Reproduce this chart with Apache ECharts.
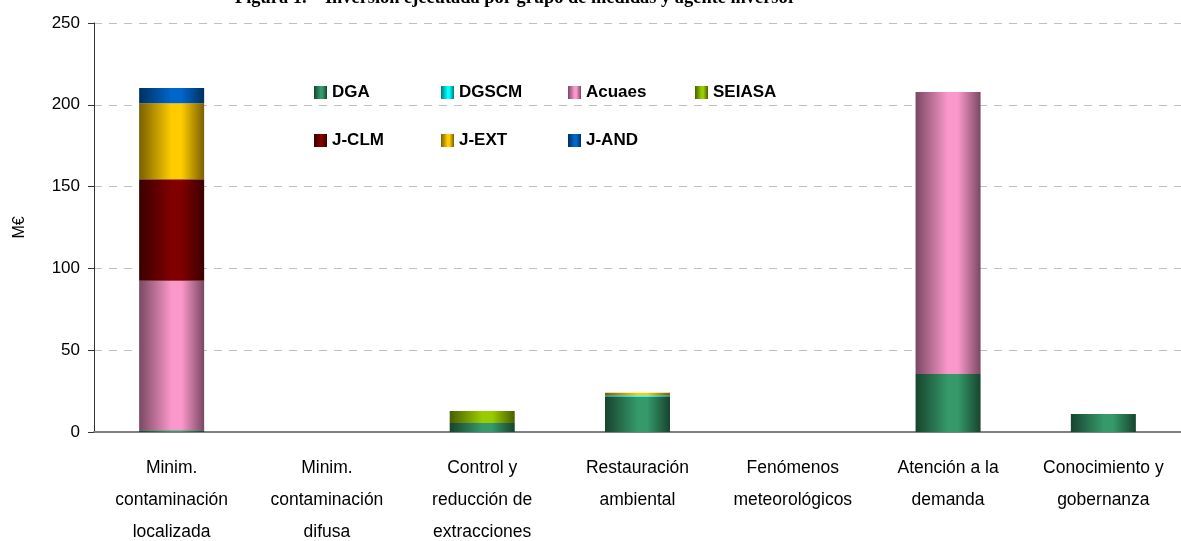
<!DOCTYPE html>
<html>
<head>
<meta charset="utf-8">
<script src="https://cdn.jsdelivr.net/npm/echarts@6/dist/echarts.min.js"></script>
<style>
	html, body { margin: 0; padding: 0; background: #fff; }
	#chart { width: 1181px; height: 541px; }
</style>
</head>
<body>
<div id="chart"></div>
<script>
	// categorias (grupos de medidas)
	var categories = [
		'Minim.\ncontaminación\nlocalizada',
		'Minim.\ncontaminación\ndifusa',
		'Control y\nreducción de\nextracciones',
		'Restauración\nambiental',
		'Fenómenos\nmeteorológicos',
		'Atención a la\ndemanda',
		'Conocimiento y\ngobernanza'
	];
	var yTicks = [0, 50, 100, 150, 200, 250];

	// inversion por agente (M€)
	var dga    = [1, 0, 5.5, 21.5, 0, 35.4, 11];
	var dgscm  = [0, 0, 0, 1, 0, 0, 0];
	var acuaes = [91.5, 0, 0, 0, 0, 172.4, 0];
	var seiasa = [0, 0, 7.3, 0, 0, 0, 0];
	var jclm   = [62, 0, 0, 0, 0, 0, 0];
	var jext   = [46.5, 0, 0, 1.5, 0, 0, 0];
	var jand   = [9.2, 0, 0, 0, 0, 0, 0];

	var agents = [
		{ name: 'DGA', data: dga, light: '#35996a', dark: '#17442e' },
		{ name: 'DGSCM', data: dgscm, light: '#00ffff', dark: '#007a7a' },
		{ name: 'Acuaes', data: acuaes, light: '#fb98cb', dark: '#7a4862' },
		{ name: 'SEIASA', data: seiasa, light: '#99cc00', dark: '#485f00' },
		{ name: 'J-CLM', data: jclm, light: '#800000', dark: '#3a0000' },
		{ name: 'J-EXT', data: jext, light: '#ffcc00', dark: '#7a6000' },
		{ name: 'J-AND', data: jand, light: '#0066cc', dark: '#00305f' }
	];

	function cylinder(light, dark) {
		return new echarts.graphic.LinearGradient(0, 0, 1, 0, [
			{ offset: 0, color: dark },
			{ offset: 0.5, color: light },
			{ offset: 0.65, color: light },
			{ offset: 1, color: dark }
		]);
	}

	var chart = echarts.init(document.getElementById('chart'));
	var seriesData = [], legends = [];
	agents.forEach(function(item, i) {
		seriesData.push({
			name: item.name,
			type: 'bar',
			stack: 'total',
			barWidth: 65,
			data: item.data,
			itemStyle: {
				color: cylinder(item.light, item.dark)
			}
		});
		// leyenda en dos filas de cuatro columnas
		legends.push({
			data: [item.name],
			left: 314 + (i % 4) * 127,
			top: 84 + Math.floor(i / 4) * 48,
			padding: 0,
			itemWidth: 13,
			itemHeight: 13,
			icon: 'rect',
			textStyle: {
				fontFamily: 'Liberation Sans',
				fontWeight: 'bold',
				fontSize: 17,
				color: '#000'
			}
		});
	});

	var chartOption = {
		animation: false,
		title: {
			text: 'Figura 1. – Inversión ejecutada por grupo de medidas y agente inversor',
			left: 235,
			top: -11,
			padding: 0,
			textStyle: {
				fontFamily: 'Liberation Serif',
				fontWeight: 'bold',
				fontSize: 18.4,
				color: '#000'
			}
		},
		legend: legends,
		grid: {
			left: 94,
			right: 0,
			top: 23,
			bottom: 109,
			outerBoundsMode: 'none'
		},
		xAxis: {
			type: 'category',
			data: categories,
			axisLine: {
				lineStyle: { color: '#808080', width: 2 }
			},
			axisTick: { show: false },
			axisLabel: {
				interval: 0,
				margin: 20,
				fontFamily: 'Liberation Sans',
				fontSize: 17.5,
				lineHeight: 32,
				color: '#000'
			}
		},
		yAxis: {
			type: 'value',
			min: yTicks[0],
			max: yTicks[yTicks.length - 1],
			interval: 50,
			name: 'M€',
			nameLocation: 'middle',
			nameGap: 66,
			nameTextStyle: {
				fontFamily: 'Liberation Sans',
				fontSize: 16,
				color: '#000'
			},
			axisLine: {
				show: true,
				lineStyle: { color: '#333', width: 1 }
			},
			axisTick: {
				show: true,
				length: 6,
				lineStyle: { color: '#333' }
			},
			axisLabel: {
				margin: 14,
				fontFamily: 'Liberation Sans',
				fontSize: 17,
				color: '#000'
			},
			splitLine: {
				lineStyle: { color: '#c0c0c0', type: [8, 7], width: 1 }
			}
		},
		series: seriesData
	};
	chart.setOption(chartOption);
</script>
</body>
</html>
